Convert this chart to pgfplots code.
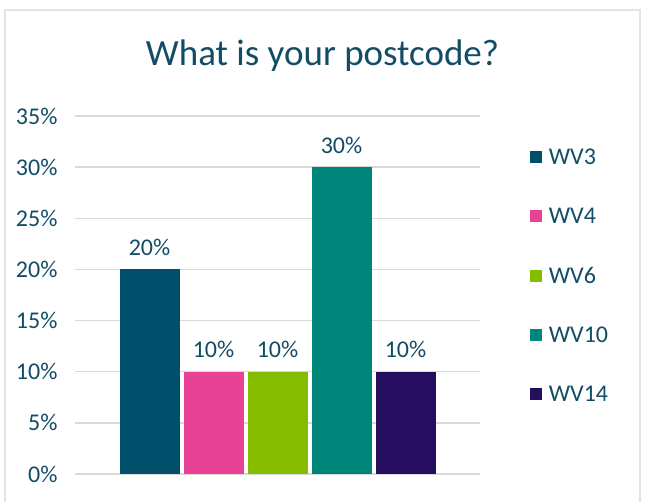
\documentclass[border=0pt]{standalone}
\usepackage{pgfplots}
\pgfplotsset{compat=1.18}
\usepackage{fontspec}
\setmainfont{Carlito}
\definecolor{txt}{HTML}{124D66}
\definecolor{gridc}{HTML}{D9D9D9}
\definecolor{frame}{HTML}{E3E3E3}
\definecolor{cA}{HTML}{00506B}
\definecolor{cB}{HTML}{E84296}
\definecolor{cC}{HTML}{86BC00}
\definecolor{cD}{HTML}{00857A}
\definecolor{cE}{HTML}{250E60}
\begin{document}
\begin{tikzpicture}[x=1pt,y=1pt]
\useasboundingbox (0,0) rectangle (647,502);
\draw[color=frame, line width=1.5pt] (5,-20) rectangle (640,492);
\node[text=txt, font=\fontsize{37}{40}\selectfont] at (322.5,446) {What is your postcode?};
\begin{axis}[
  at={(75pt,28pt)}, anchor=south west,
  scale only axis, width=405pt, height=358pt,
  xmin=-1, xmax=1, ymin=0, ymax=35,
  ytick={0,5,...,35}, xtick=\empty,
  yticklabel={\pgfmathprintnumber{\tick}\%},
  /pgf/number format/assume math mode=true,
  yticklabel style={text=txt, font=\fontsize{24}{26}\selectfont, xshift=-14pt},
  axis line style={draw=none},
  major tick length=0pt,
  ymajorgrids, grid style={color=gridc, line width=1.5pt},
  ybar=4pt, bar width=60pt,
  nodes near coords={\pgfmathprintnumber{\pgfplotspointmeta}\%},
  nodes near coords style={text=txt, font=\fontsize{24}{26}\selectfont, yshift=10pt},
  legend image code/.code={\fill[#1] (0pt,-6pt) rectangle (12pt,6pt);},
  legend style={draw=none, at={(1.115,0.92)}, anchor=north west,
    font=\fontsize{24}{26}\selectfont, text=txt, row sep=38pt,
    /tikz/every odd column/.append style={column sep=5pt}},
  legend cell align=left,
]
\addplot[fill=cA, draw=none] coordinates {(0,20)};
\addplot[fill=cB, draw=none] coordinates {(0,10)};
\addplot[fill=cC, draw=none] coordinates {(0,10)};
\addplot[fill=cD, draw=none] coordinates {(0,30)};
\addplot[fill=cE, draw=none] coordinates {(0,10)};
\legend{WV3,WV4,WV6,WV10,WV14}
\end{axis}
\end{tikzpicture}
\end{document}
